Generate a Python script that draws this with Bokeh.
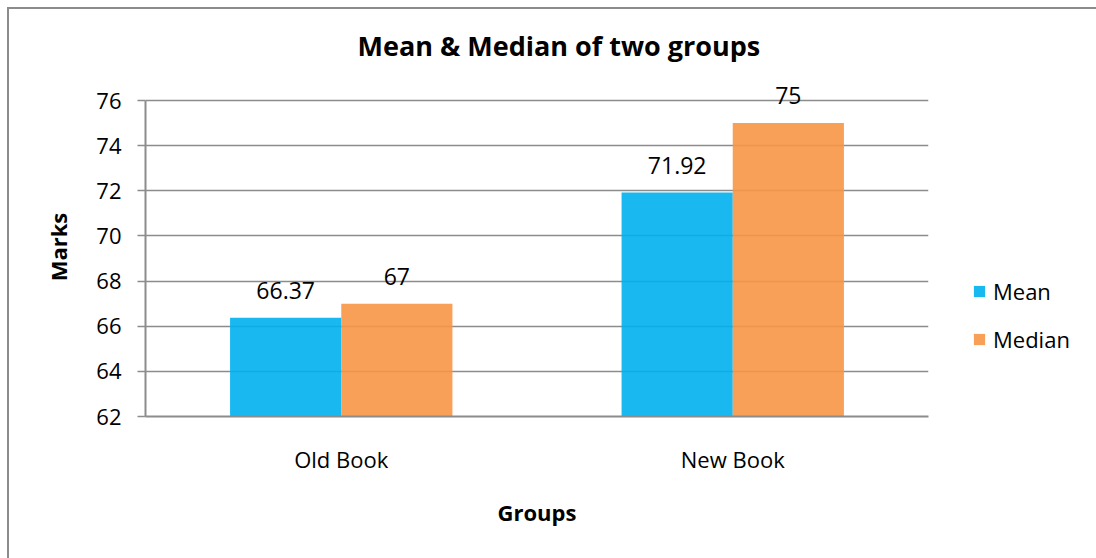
from bokeh.plotting import figure
from bokeh.models import ColumnDataSource, Legend, LegendItem, FactorRange, LabelSet
from bokeh.transform import dodge
from bokeh.core.properties import value
from bokeh.embed import file_html
from bokeh.resources import INLINE

groups = ["Old Book", "New Book"]
mean_vals = [66.37, 71.92]
median_vals = [67, 75]
mean_labels = ["66.37", "71.92"]
median_labels = ["67", "75"]
y_ticks = [62, 64, 66, 68, 70, 72, 74, 76]

FONT = "Open Sans"
BLUE = "#00B0F0"
ORANGE = "#F79646"
GRID = "#8C8C8C"

src = ColumnDataSource(dict(groups=groups, mean=mean_vals, median=median_vals,
                            mean_lab=mean_labels, median_lab=median_labels))

# frame extends a little above 76 so the top data label is not clipped
y_top = 62 + 339 * 14 / 316

p = figure(x_range=FactorRange(factors=groups), y_range=(62, y_top),
           frame_width=783, frame_height=339,
           min_border_left=136, min_border_right=168, min_border_top=68, min_border_bottom=142,
           output_backend="svg", toolbar_location=None,
           margin=(7, 0, 0, 7),
           styles={"border-left": "2px solid #8C8C8C", "border-top": "2px solid #8C8C8C"})

p.title.text = "Mean & Median of two groups"
p.title.align = "left"
p.title.offset = 212
p.title.text_font = FONT
p.title.text_font_size = "27px"
p.title.text_font_style = "bold"
p.title.text_color = "black"
p.title.standoff = 27

w = 0.284
r1 = p.vbar(x=dodge("groups", -w / 2, range=p.x_range), top="mean", bottom=62, width=w,
            source=src, fill_color=BLUE, fill_alpha=0.9, line_color=None)
r2 = p.vbar(x=dodge("groups", w / 2, range=p.x_range), top="median", bottom=62, width=w,
            source=src, fill_color=ORANGE, fill_alpha=0.9, line_color=None)

lab1 = LabelSet(x=dodge("groups", -w / 2, range=p.x_range), y="mean", text="mean_lab", source=src,
                text_align="center", text_baseline="bottom", y_offset=19,
                text_font=value(FONT), text_font_size="23px", text_color="black")
lab2 = LabelSet(x=dodge("groups", w / 2, range=p.x_range), y="median", text="median_lab", source=src,
                text_align="center", text_baseline="bottom", y_offset=19,
                text_font=value(FONT), text_font_size="23px", text_color="black")
p.add_layout(lab1)
p.add_layout(lab2)

# axes
p.yaxis.ticker = y_ticks
p.yaxis.bounds = (62, 76)
p.yaxis.axis_label = "Marks"
p.xaxis.axis_label = "Groups"
for ax in (p.xaxis[0], p.yaxis[0]):
    ax.axis_label_text_font = FONT
    ax.axis_label_text_font_size = "22px"
    ax.axis_label_text_font_style = "bold"
    ax.axis_label_text_color = "black"
    ax.major_label_text_font = FONT
    ax.major_label_text_font_size = "22px"
    ax.major_label_text_color = "black"
    ax.axis_line_color = GRID
    ax.axis_line_width = 2
    ax.minor_tick_line_color = None

p.yaxis.major_tick_line_color = GRID
p.yaxis.major_tick_line_width = 1.5
p.yaxis.major_tick_out = 8
p.yaxis.major_tick_in = 0
p.yaxis.major_label_standoff = 16
p.yaxis.axis_label_standoff = 20

p.xaxis.major_tick_line_color = None
p.xaxis.major_label_standoff = 21
p.xaxis.axis_label_standoff = 20

p.xgrid.grid_line_color = None
p.ygrid.grid_line_color = GRID
p.ygrid.grid_line_width = 1.3
p.ygrid.ticker = y_ticks

p.outline_line_color = None
p.background_fill_color = "white"
p.border_fill_color = "white"

legend = Legend(items=[LegendItem(label="Mean", renderers=[r1]),
                       LegendItem(label="Median", renderers=[r2])],
                location=(44, 62), orientation="vertical",
                label_text_font=FONT, label_text_font_size="22px", label_text_color="black",
                glyph_width=14, glyph_height=14, label_height=20, label_standoff=7,
                spacing=18, padding=0, margin=0,
                border_line_color=None, background_fill_alpha=0)
p.add_layout(legend, "right")

open("out.html", "w").write(file_html(p, INLINE))
